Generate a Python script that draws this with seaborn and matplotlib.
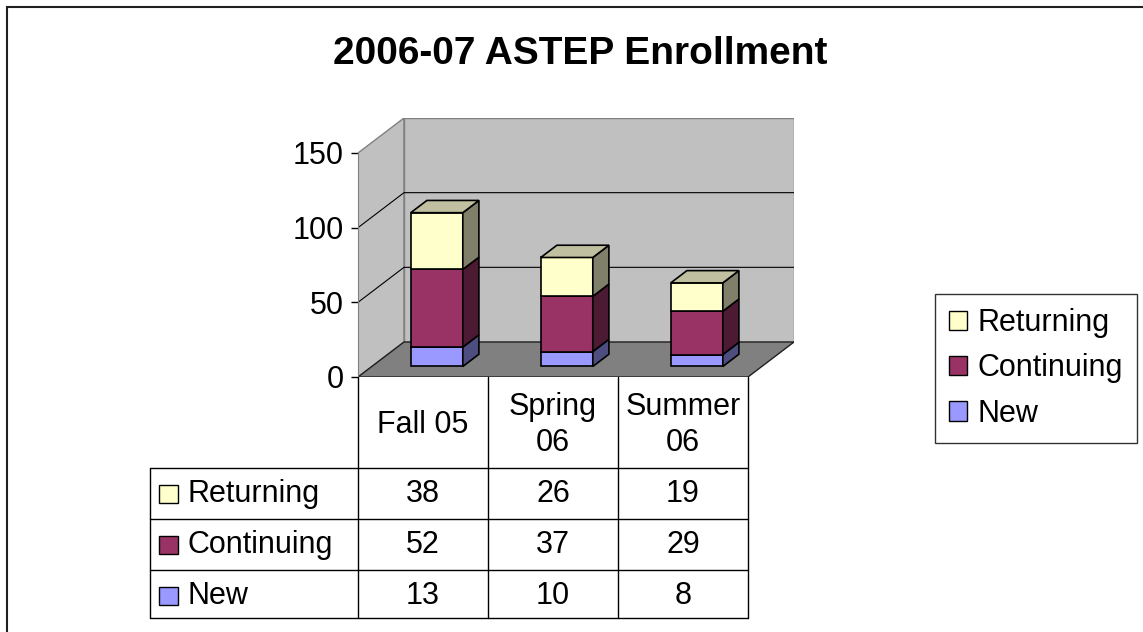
import numpy as np
import pandas as pd
import seaborn as sns
import matplotlib.pyplot as plt
from matplotlib.patches import Polygon, Rectangle, Patch

# data
terms = ["Fall 05", "Spring 06", "Summer 06"]
term_headers = ["Fall 05", "Spring\n06", "Summer\n06"]
table_order = ["Returning", "Continuing", "New"]
new = [13, 10, 8]
continuing = [52, 37, 29]
returning = [38, 26, 19]
y_ticks = [0, 50, 100, 150]

values = {"New": new, "Continuing": continuing, "Returning": returning}
front = {"New": "#9999FF", "Continuing": "#993366", "Returning": "#FFFFCC"}
side = {"New": "#4D4D80", "Continuing": "#4D1A33", "Returning": "#80806A"}
top = {"New": "#7A7ACC", "Continuing": "#7A2952", "Returning": "#C0C0A0"}

sns.set_style("white")
plt.rcParams["font.family"] = ["Liberation Sans", "DejaVu Sans"]
plt.rcParams["text.color"] = "black"
plt.rcParams["ytick.color"] = "black"
plt.rcParams["ytick.labelcolor"] = "black"
FS = 22

W, H = 1143, 632
fig = plt.figure(figsize=(W / 100, H / 100), dpi=100)

# pseudo-3d geometry (pixels -> data units)
PX_X = 130.0
PX_Y = 224 / 150
DX = 46 / PX_X
DY = 35 / PX_Y
x0_px, y0_px = 358, 377
xmax = 2.5 + DX
ymax = 150 + DY
ax = fig.add_axes([x0_px / W, 1 - y0_px / H, (xmax + 0.5) * PX_X / W, ymax * PX_Y / H])
ax.patch.set_visible(False)


def vx(px):
    return -0.5 + (px - x0_px) / PX_X


def vy(py):
    return -(py - y0_px) / PX_Y


# walls and floor
wall_kw = dict(facecolor="#C0C0C0", edgecolor="#808080", lw=1, zorder=1)
ax.add_patch(Polygon([(-0.5, 0), (-0.5 + DX, DY), (-0.5 + DX, 150 + DY), (-0.5, 150)], **wall_kw))
ax.add_patch(Rectangle((-0.5 + DX, DY), 3, 150, **wall_kw))
ax.add_patch(Polygon([(-0.5, 0), (2.5, 0), (2.5 + DX, DY), (-0.5 + DX, DY)],
                     facecolor="#808080", edgecolor="#202020", lw=1, zorder=1.2))
for v in y_ticks[1:-1]:
    ax.plot([-0.5, -0.5 + DX, 2.5 + DX], [v, v + DY, v + DY], color="black", lw=0.8, zorder=1.5)

# stacked bars
F0, F1 = 0.3, 0.65
bw = 0.4
pos = np.arange(len(terms)) + F0 * DX
bdx = (F1 - F0) * DX
bdy = (F1 - F0) * DY
base = np.full(len(terms), F0 * DY)
for name in ["New", "Continuing", "Returning"]:
    vals = np.array(values[name], dtype=float)
    d = pd.DataFrame({"x": pos, "y": vals})
    sns.barplot(data=d, x="x", y="y", native_scale=True, width=bw, bottom=base,
                color=front[name], saturation=1, edgecolor="black", linewidth=1.2,
                errorbar=None, ax=ax, zorder=3)
    for i in range(len(terms)):
        xl, xr = pos[i] - bw / 2, pos[i] + bw / 2
        yb, yt = base[i], base[i] + vals[i]
        ax.add_patch(Polygon([(xr, yb), (xr + bdx, yb + bdy), (xr + bdx, yt + bdy), (xr, yt)],
                             facecolor=side[name], edgecolor="black", lw=1.2, zorder=3))
        if name == "Returning":
            ax.add_patch(Polygon([(xl, yt), (xr, yt), (xr + bdx, yt + bdy), (xl + bdx, yt + bdy)],
                                 facecolor=top[name], edgecolor="black", lw=1.2, zorder=3))
    base = base + vals

ax.set_xlim(-0.5, xmax)
ax.set_ylim(0, ymax)
ax.set_xlabel("")
ax.set_ylabel("")
ax.set_xticks([])
ax.set_yticks(y_ticks)
ax.tick_params(axis="y", left=True, length=5, width=1, color="black", pad=5, labelsize=FS)
for s in ["top", "right", "bottom"]:
    ax.spines[s].set_visible(False)
ax.spines["left"].set_bounds(0, 150)
ax.spines["left"].set_color("#808080")

# data table
line_kw = dict(color="black", lw=1, clip_on=False, zorder=4)
y_hdr, y_rows = vy(468), [vy(519), vy(570), vy(618)]
for xv in [-0.5, 0.5, 1.5, 2.5]:
    ax.plot([xv, xv], [0, y_rows[-1]], **line_kw)
ax.plot([vx(150), vx(150)], [y_hdr, y_rows[-1]], **line_kw)
for yv in [y_hdr] + y_rows:
    ax.plot([vx(150), 2.5], [yv, yv], **line_kw)
for i, h in enumerate(term_headers):
    ax.text(i, vy(425), h, ha="center", va="center", fontsize=FS, linespacing=1.25, clip_on=False)
row_centers = [494, 545, 596]
for name, rc in zip(table_order, row_centers):
    ax.add_patch(Rectangle((vx(159), vy(rc + 9)), 19 / PX_X, 18 / PX_Y, facecolor=front[name],
                           edgecolor="black", lw=1, clip_on=False, zorder=4))
    ax.text(vx(187), vy(rc), name, ha="left", va="center", fontsize=FS, clip_on=False)
    for i, v in enumerate(values[name]):
        ax.text(i, vy(rc), str(v), ha="center", va="center", fontsize=FS, clip_on=False)

# legend
handles = [Patch(facecolor=front[n], edgecolor="black", lw=1) for n in table_order]
leg = fig.legend(handles, table_order, loc="center left", bbox_to_anchor=(935 / W, 1 - 368.5 / H),
                 fontsize=FS, frameon=True, fancybox=False, edgecolor="black",
                 handlelength=0.6, handleheight=0.6, handletextpad=0.35,
                 labelspacing=0.5, borderpad=0.45, borderaxespad=0)
leg.get_frame().set_linewidth(1)

# title and outer border
fig.text(580 / W, 1 - 54 / H, "2006-07 ASTEP Enrollment", ha="center", va="center",
         fontsize=28, fontweight="bold")
fig.patches.append(Rectangle((7 / W, -0.1), 1.2, 1 - 7 / H + 0.1, transform=fig.transFigure,
                             fill=False, edgecolor="#202020", lw=1.5))

fig.savefig("out.png", dpi=100)
